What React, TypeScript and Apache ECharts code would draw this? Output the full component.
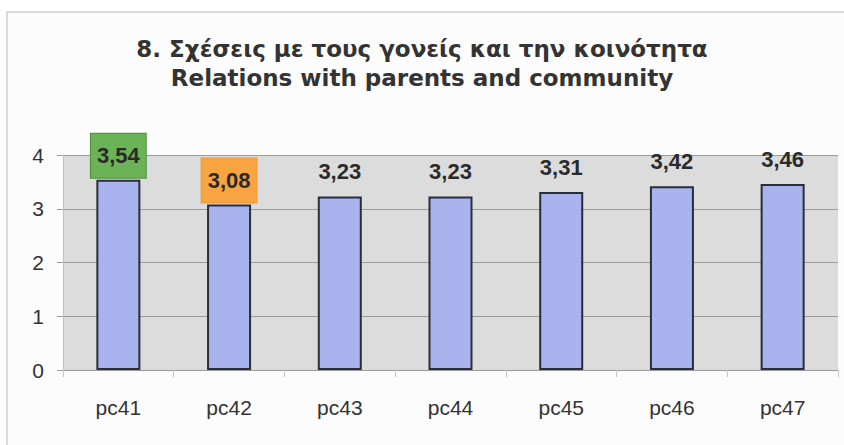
import React, { useEffect, useRef } from "react";
import * as echarts from "echarts";

const titleLines = ["8. Σχέσεις με τους γονείς και την κοινότητα", "Relations with parents and community"];
const categories = ["pc41", "pc42", "pc43", "pc44", "pc45", "pc46", "pc47"];
const values = [3.54, 3.08, 3.23, 3.23, 3.31, 3.42, 3.46];
const highlightColors: (string | null)[] = ["#6cb257", "#f9a443", null, null, null, null, null];
const highlightBorders: (string | null)[] = ["#4c8f3e", "#ee9735", null, null, null, null, null];
const yTicks = [0, 1, 2, 3, 4];

export default function App() {
  const ref = useRef<HTMLDivElement>(null);
  useEffect(() => {
    if (!ref.current) return;
    const chart = echarts.init(ref.current, undefined, { renderer: "svg" });
    const fmt = (v: number) => v.toFixed(2).replace(".", ",");
    const data = values.map((v, i) => {
      const hc = highlightColors[i];
      if (hc) {
        return {
          value: v,
          label: {
            backgroundColor: hc,
            borderColor: highlightBorders[i],
            borderWidth: 1,
            padding: [11, 6, 11, 6],
            distance: 2,
          },
        };
      }
      return { value: v };
    });
    chart.setOption({
      animation: false,
      backgroundColor: "#ffffff",
      title: {
        text: titleLines.join("\n"),
        left: "center",
        top: 29,
        textStyle: {
          fontFamily: "DejaVu Sans",
          fontWeight: "bold",
          fontSize: 23,
          lineHeight: 29,
          color: "#333333",
        },
      },
      graphic: [
        {
          type: "rect",
          shape: { x: 7, y: 12, width: 860, height: 460 },
          style: { fill: "#fcfcfc", stroke: "#d0d0d0", lineWidth: 1.5 },
          z: -10,
          silent: true,
        },
      ],
      grid: { left: 63, top: 155, width: 775, height: 215, show: true, backgroundColor: "#dcdcdc", borderWidth: 0 },
      xAxis: {
        type: "category",
        data: categories,
        axisLine: { show: true, lineStyle: { color: "#9a9a9a", width: 1 } },
        axisTick: { show: true, length: 7, lineStyle: { color: "#c8c8c8" } },
        axisLabel: { margin: 27, fontSize: 21, color: "#333", fontFamily: "Liberation Sans" },
      },
      yAxis: {
        type: "value",
        min: 0,
        max: 4,
        interval: 1,
        axisLine: { show: true, lineStyle: { color: "#c0c0c0" } },
        axisTick: { show: true, length: 6, lineStyle: { color: "#9a9a9a" } },
        splitLine: { show: true, lineStyle: { color: "#9a9a9a", width: 1 } },
        axisLabel: {
          margin: 19,
          fontSize: 21,
          color: "#333",
          fontFamily: "Liberation Sans",
          formatter: (v: number) => (yTicks.includes(v) ? String(v) : ""),
        },
      },
      series: [
        {
          type: "bar",
          data,
          barWidth: 44,
          itemStyle: { color: "#a9b3ee", borderColor: "#2a2e38", borderWidth: 2 },
          label: {
            show: true,
            position: "top",
            distance: 14,
            fontFamily: "Liberation Sans",
            fontWeight: "bold",
            fontSize: 22,
            color: "#2a2a2a",
            formatter: (p: any) => fmt(p.value),
          },
        },
      ],
    });
    return () => chart.dispose();
  }, []);
  return <div ref={ref} style={{ position: "fixed", left: 0, top: 0, width: 844, height: 445 }} />;
}
